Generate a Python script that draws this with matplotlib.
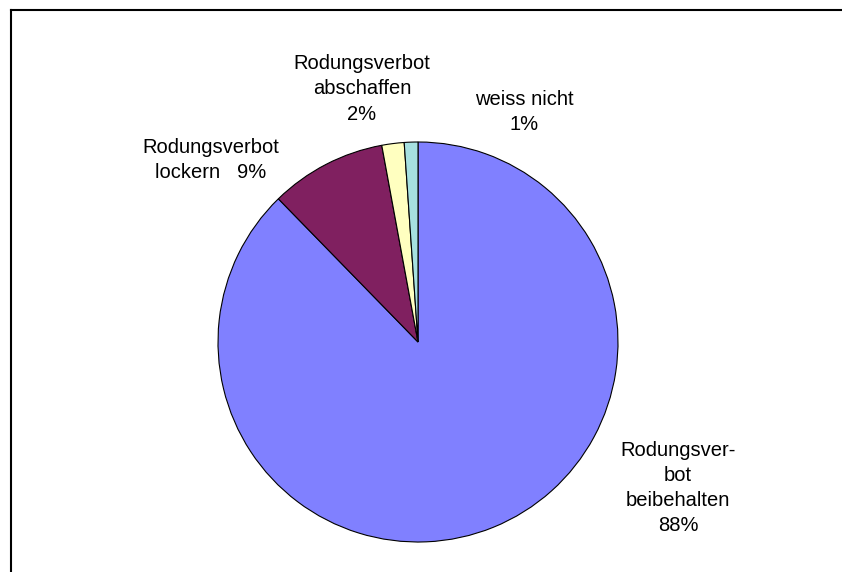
import matplotlib.pyplot as plt
from matplotlib.lines import Line2D

plt.rcParams['font.family'] = ['Liberation Sans', 'DejaVu Sans']

# share of answers (slice sizes) and shown labels
categories = ["Rodungsver-\nbot\nbeibehalten", "Rodungsverbot\nlockern  ", "Rodungsverbot\nabschaffen", "weiss nicht"]
values = [87.7, 9.4, 1.8, 1.1]
pct_labels = ["88%", "9%", "2%", "1%"]
colors = ["#8080FF", "#802060", "#FFFFC0", "#A6E0E0"]

W, H = 842, 572
fig = plt.figure(figsize=(W / 100, H / 100), dpi=100)
ax = fig.add_axes([0, 0, 1, 1])

ax.pie(
    values,
    colors=colors,
    startangle=90,
    counterclock=False,
    radius=1,
    wedgeprops=dict(edgecolor="black", linewidth=0.8),
)

# pie centre at (418, 342) px, radius 200 px
cx, cy, r = 418, 342, 200
ax.set_xlim(-cx / r, (W - cx) / r)
ax.set_ylim(-(H - cy) / r, cy / r)
ax.set_aspect("equal")
ax.axis("off")

# label positions in pie units
label_pos = [(1.30, -0.73), (-1.035, 0.91), (-0.28, 1.265), (0.53, 1.15)]
joiners = ["\n", " ", "\n", "\n"]
for cat, pct, j, (x, y) in zip(categories, pct_labels, joiners, label_pos):
    ax.text(x, y, cat + j + pct, ha="center", va="center",
            fontsize=14.5, linespacing=1.42)

# chart area border (cut off at right and bottom)
fig.add_artist(Line2D([11 / W, 11 / W], [0, 1 - 10 / H], color="black", lw=1.5))
fig.add_artist(Line2D([11 / W, 1], [1 - 10 / H, 1 - 10 / H], color="black", lw=1.5))

fig.savefig("out.png", dpi=100)
